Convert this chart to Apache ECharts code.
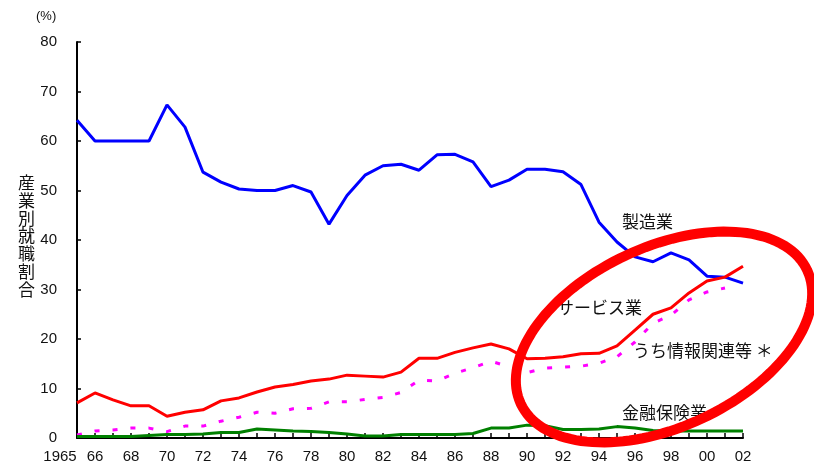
<!DOCTYPE html>
<html>
<head>
<meta charset="utf-8">
<script src="https://cdn.jsdelivr.net/npm/echarts@6/dist/echarts.min.js"></script>
<style>
  html, body { margin: 0; padding: 0; background: #ffffff; }
  #chart { width: 814px; height: 464px; }
</style>
</head>
<body>
<div id="chart"></div>
<script>
// Employment share by industry, 1965-2002 (%)
const years = [];
for (let y = 1965; y <= 2002; y++) years.push(String(y));

const manufacturing = [64.2, 60, 60, 60, 60, 67.3, 62.8, 53.7, 51.7, 50.3, 50, 50, 51, 49.7, 43.2, 49, 53.1, 55, 55.3, 54.1, 57.2, 57.3, 55.8, 50.8, 52.1, 54.3, 54.3, 53.8, 51.2, 43.6, 39.6, 36.6, 35.6, 37.4, 36, 32.7, 32.5, 31.3];
const services = [7.1, 9.1, 7.7, 6.5, 6.5, 4.4, 5.2, 5.7, 7.5, 8.1, 9.3, 10.3, 10.8, 11.5, 11.9, 12.7, 12.5, 12.3, 13.3, 16.1, 16.1, 17.3, 18.2, 19, 18, 16, 16.1, 16.4, 17, 17.1, 18.6, 21.8, 25, 26.3, 29.3, 31.7, 32.5, 34.7];
const infoRelated = [0.6, 1.4, 1.6, 2, 2, 1.3, 2.4, 2.4, 3.4, 4.2, 5.2, 5, 5.9, 6, 7.3, 7.3, 7.8, 8.2, 9.2, 11.7, 11.5, 13.1, 14.2, 15.5, 14.4, 13.2, 14.1, 14.3, 14.5, 15.1, 16.4, 19.4, 23.2, 24.8, 27.9, 29.5, 30.3, null];
const finance = [0.3, 0.3, 0.3, 0.3, 0.5, 0.7, 0.7, 0.8, 1.1, 1.1, 1.8, 1.6, 1.4, 1.3, 1.1, 0.8, 0.4, 0.4, 0.7, 0.7, 0.7, 0.7, 0.9, 2.0, 2.0, 2.6, 2.5, 1.7, 1.7, 1.8, 2.3, 2.0, 1.5, 1.4, 1.4, 1.4, 1.4, 1.4];

const seriesNames = ['製造業', 'サービス業', 'うち情報関連等 ＊', '金融保険業'];
const yTitle = '産業別就職割合';
const unitLabel = '(%)';

const numFont = '"Liberation Sans", Arial, sans-serif';
const jpFont = '"Noto Sans CJK JP", sans-serif';

// Highlight ellipse outline around the recent years
function ellipsePoints(cx, cy, rx, ry, deg, n) {
  const th = deg * Math.PI / 180;
  const pts = [];
  for (let i = 0; i < n; i++) {
    const t = 2 * Math.PI * i / n;
    const ex = rx * Math.cos(t), ey = ry * Math.sin(t);
    pts.push([cx + ex * Math.cos(th) - ey * Math.sin(th),
              cy - (ex * Math.sin(th) + ey * Math.cos(th))]);
  }
  return pts;
}

const chart = echarts.init(document.getElementById('chart'));
chart.setOption({
  backgroundColor: '#ffffff',
  animation: false,
  grid: { left: 77, right: 71, top: 42, bottom: 26 },
  xAxis: {
    type: 'category',
    data: years,
    boundaryGap: false,
    axisLine: { lineStyle: { color: '#000', width: 2 } },
    axisTick: { inside: true, length: 5, interval: 0, lineStyle: { color: '#000', width: 1.5 } },
    axisLabel: {
      interval: (idx) => idx === 0 || idx % 2 === 1,
      margin: 11,
      fontFamily: numFont,
      fontSize: 15,
      color: '#111',
      formatter: (v) => v === '1965' ? '{f|1965}' : v.slice(2),
      rich: { f: { fontFamily: numFont, fontSize: 15, color: '#111', padding: [0, 34, 0, 0] } }
    },
    splitLine: { show: false }
  },
  yAxis: {
    type: 'value',
    min: 0, max: 80, interval: 10,
    axisLine: { show: true, lineStyle: { color: '#000', width: 2 } },
    axisTick: { show: true, inside: true, length: 4, lineStyle: { color: '#000', width: 1.5 } },
    axisLabel: { margin: 20, fontFamily: numFont, fontSize: 15, color: '#111' },
    splitLine: { show: false }
  },
  series: [
    { name: seriesNames[0], type: 'line', data: manufacturing, symbol: 'none',
      lineStyle: { color: '#0000ff', width: 3 }, z: 3 },
    { name: seriesNames[1], type: 'line', data: services, symbol: 'none',
      lineStyle: { color: '#ff0000', width: 3 }, z: 4 },
    { name: seriesNames[2], type: 'line', data: infoRelated, symbol: 'none',
      lineStyle: { color: '#ff00ff', width: 3, type: [5, 13] }, z: 2 },
    { name: seriesNames[3], type: 'line', data: finance, symbol: 'none',
      lineStyle: { color: '#008000', width: 3 }, z: 2 }
  ],
  graphic: [
    { type: 'text', left: 36, top: 10,
      style: { text: unitLabel, font: '13px ' + numFont, fill: '#111' } },
    { type: 'text', left: 18, top: 174,
      style: { text: yTitle.split('').join('\n'), font: '17px ' + jpFont, fill: '#111', lineHeight: 17.7 } },
    { type: 'text', left: 622, top: 213,
      style: { text: seriesNames[0], font: '17px ' + jpFont, fill: '#111' } },
    { type: 'text', left: 557, top: 299,
      style: { text: seriesNames[1], font: '17px ' + jpFont, fill: '#111' } },
    { type: 'text', left: 633, top: 342,
      style: { text: seriesNames[2], font: '17px ' + jpFont, fill: '#111' } },
    { type: 'text', left: 622, top: 404,
      style: { text: seriesNames[3], font: '17px ' + jpFont, fill: '#111' } },
    { type: 'polygon', z: 100,
      shape: { points: ellipsePoints(664, 337, 158, 90, 25, 140) },
      style: { fill: 'none', stroke: '#ff0000', lineWidth: 10 } }
  ]
});
</script>
</body>
</html>
